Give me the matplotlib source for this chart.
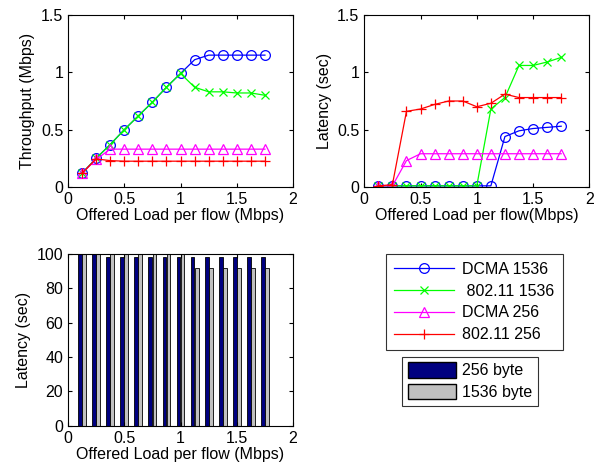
import matplotlib
matplotlib.use("Agg")
import matplotlib.pyplot as plt
from matplotlib.patches import Patch
import numpy as np

plt.rcParams['font.family'] = ['Liberation Sans', 'DejaVu Sans']
plt.rcParams['font.size'] = 11

# offered load per flow (Mbps)
load = [0.125, 0.25, 0.375, 0.5, 0.625, 0.75, 0.875, 1.0,
        1.125, 1.25, 1.375, 1.5, 1.625, 1.75]

# throughput (Mbps)
thr_dcma_1536 = [0.12, 0.25, 0.37, 0.5, 0.62, 0.74, 0.87, 0.99,
                 1.11, 1.15, 1.15, 1.15, 1.15, 1.15]
thr_80211_1536 = [0.12, 0.25, 0.37, 0.5, 0.62, 0.74, 0.87, 0.99,
                  0.87, 0.83, 0.83, 0.82, 0.82, 0.80]
thr_dcma_256 = [0.12, 0.24, 0.33, 0.33, 0.33, 0.33, 0.33, 0.33,
                0.33, 0.33, 0.33, 0.33, 0.33, 0.33]
thr_80211_256 = [0.12, 0.245, 0.23, 0.225, 0.225, 0.225, 0.225, 0.225,
                 0.225, 0.225, 0.225, 0.225, 0.225, 0.225]

# latency (sec)
lat_dcma_1536 = [0.01, 0.01, 0.01, 0.01, 0.01, 0.01, 0.01, 0.01,
                 0.01, 0.44, 0.49, 0.51, 0.52, 0.53]
lat_80211_1536 = [0.01, 0.01, 0.01, 0.01, 0.01, 0.01, 0.01, 0.01,
                  0.68, 0.78, 1.06, 1.06, 1.09, 1.13]
lat_dcma_256 = [0.01, 0.01, 0.23, 0.29, 0.29, 0.29, 0.29, 0.29,
                0.29, 0.29, 0.29, 0.29, 0.29, 0.29]
lat_80211_256 = [0.01, 0.02, 0.66, 0.68, 0.72, 0.75, 0.75, 0.70,
                 0.73, 0.81, 0.78, 0.78, 0.78, 0.78]

# bottom bar chart (values above 100 are clipped by the axis)
bar_256 = [104, 104, 98, 98, 98, 98, 98, 98,
           98, 98, 98, 98, 98, 98]
bar_1536 = [104, 104, 104, 104, 104, 104, 104, 104,
            92, 92, 92, 92, 92, 92]

series = [
    ("DCMA 1536", "#0000ff", "o", 7),
    (" 802.11 1536", "#00ff00", "x", 5.5),
    ("DCMA 256", "#ff00ff", "^", 7.5),
    ("802.11 256", "#ff0000", "+", 7),
]

FS = 11.5


def style(ax):
    ax.tick_params(direction='in', top=True, right=True, length=3, labelsize=FS)
    for s in ax.spines.values():
        s.set_linewidth(0.8)


fig = plt.figure(figsize=(6.05, 4.69), dpi=100)
ax1 = fig.add_axes([0.1124, 0.6013, 0.372, 0.3667])
ax2 = fig.add_axes([0.6021, 0.6013, 0.372, 0.3667])
ax3 = fig.add_axes([0.1124, 0.0923, 0.372, 0.366])

lines = []
for ys, (lab, c, m, ms) in zip([thr_dcma_1536, thr_80211_1536, thr_dcma_256, thr_80211_256], series):
    l, = ax1.plot(load, ys, color=c, marker=m, markersize=ms, mfc='none',
                  mew=0.9, lw=0.9, label=lab)
    lines.append(l)
ax1.set_xlim(0, 2)
ax1.set_ylim(0, 1.5)
ax1.set_xticks([0, 0.5, 1, 1.5, 2])
ax1.set_xticklabels(['0', '0.5', '1', '1.5', '2'])
ax1.set_yticks([0, 0.5, 1, 1.5])
ax1.set_yticklabels(['0', '0.5', '1', '1.5'])
ax1.set_xlabel('Offered Load per flow (Mbps)', fontsize=FS, labelpad=1)
ax1.set_ylabel('Throughput (Mbps)', fontsize=FS)
style(ax1)

for ys, (lab, c, m, ms) in zip([lat_dcma_1536, lat_80211_1536, lat_dcma_256, lat_80211_256], series):
    ax2.plot(load, ys, color=c, marker=m, markersize=ms, mfc='none',
             mew=0.9, lw=0.9)
ax2.set_xlim(0, 2)
ax2.set_ylim(0, 1.5)
ax2.set_xticks([0, 0.5, 1, 1.5, 2])
ax2.set_xticklabels(['0', '0.5', '1', '1.5', '2'])
ax2.set_yticks([0, 0.5, 1, 1.5])
ax2.set_yticklabels(['0', '0.5', '1', '1.5'])
ax2.set_xlabel('Offered Load per flow(Mbps)', fontsize=FS, labelpad=1)
ax2.set_ylabel('Latency (sec)', fontsize=FS)
style(ax2)

x = np.array(load)
w = 0.034
ax3.bar(x - 0.018, bar_256, width=w, color='#000080', edgecolor='black', lw=0.6)
ax3.bar(x + 0.018, bar_1536, width=w, color='#c0c0c0', edgecolor='black', lw=0.6)
ax3.set_xlim(0, 2)
ax3.set_ylim(0, 100)
ax3.set_xticks([0, 0.5, 1, 1.5, 2])
ax3.set_xticklabels(['0', '0.5', '1', '1.5', '2'])
ax3.set_yticks([0, 20, 40, 60, 80, 100])
ax3.set_xlabel('Offered Load per flow (Mbps)', fontsize=FS, labelpad=1)
ax3.set_ylabel('Latency (sec)', fontsize=FS)
style(ax3)

leg1 = fig.legend(handles=lines, loc='upper left', bbox_to_anchor=(0.6375, 0.4584),
                  fontsize=FS, frameon=True, fancybox=False, edgecolor='black',
                  handlelength=3.8, borderaxespad=0, labelspacing=0.42,
                  borderpad=0.5, handletextpad=0.5)
leg1.get_frame().set_linewidth(0.8)

patches = [Patch(facecolor='#000080', edgecolor='black', label='256 byte'),
           Patch(facecolor='#c0c0c0', edgecolor='black', label='1536 byte')]
leg2 = fig.legend(handles=patches, loc='upper left', bbox_to_anchor=(0.6645, 0.2394),
                  fontsize=FS, frameon=True, fancybox=False, edgecolor='black',
                  handlelength=3.0, handleheight=1.1, borderaxespad=0,
                  labelspacing=0.35, borderpad=0.35, handletextpad=0.4)
leg2.get_frame().set_linewidth(0.8)

fig.savefig('out.png', dpi=100)
